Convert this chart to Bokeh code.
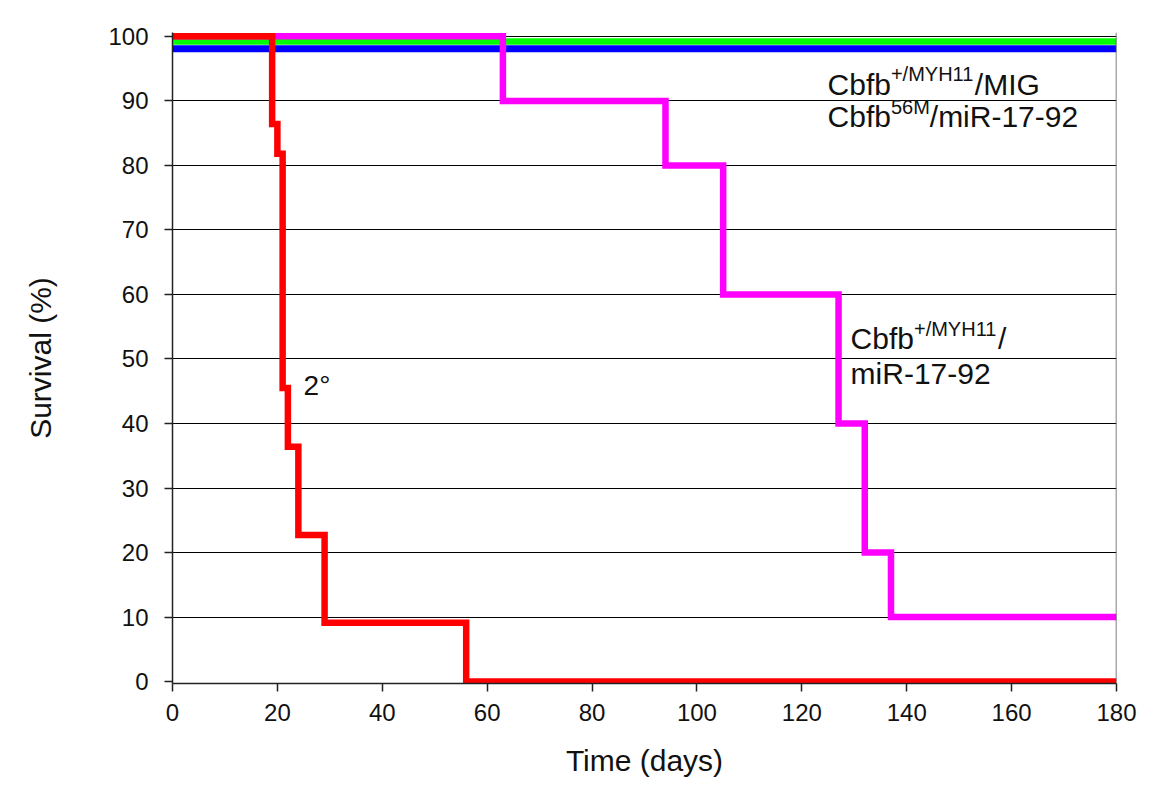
from bokeh.plotting import figure
from bokeh.models import Range1d, FixedTicker, Label, Span
from bokeh.embed import file_html
from bokeh.resources import INLINE

# ---- data ----
days_red = [0, 19, 20, 21, 22, 24, 29, 56, 180]
surv_red = [100, 86.4, 81.8, 45.5, 36.4, 22.7, 9.1, 0, 0]
days_mag = [0, 63, 94, 105, 127, 132, 137, 180]
surv_mag = [100, 90, 80, 60, 40, 20, 10, 10]
days_green = [0, 180]
surv_green = [99.2, 99.2]
days_blue = [0, 180]
surv_blue = [98.1, 98.1]
x_ticks = [0, 20, 40, 60, 80, 100, 120, 140, 160, 180]
y_ticks = [0, 10, 20, 30, 40, 50, 60, 70, 80, 90, 100]
grid_levels = [10, 20, 30, 40, 50, 60, 70, 80, 90, 100]

FONT = "Liberation Sans"

p = figure(width=1155, height=801, output_backend="svg", toolbar_location=None,
           x_range=Range1d(0, 180), y_range=Range1d(-0.3, 100.6),
           min_border_left=172, min_border_right=39, min_border_top=32, min_border_bottom=118)
p.background_fill_color = "white"
p.border_fill_color = "white"
p.outline_line_color = None

# axes
p.xaxis.ticker = FixedTicker(ticks=x_ticks)
p.yaxis.ticker = FixedTicker(ticks=y_ticks)
for ax in (p.xaxis, p.yaxis):
    ax.axis_line_color = "#222222"
    ax.axis_line_width = 1.5
    ax.major_tick_line_color = "#222222"
    ax.major_tick_line_width = 1.5
    ax.major_tick_out = 8
    ax.major_tick_in = 0
    ax.minor_tick_line_color = None
    ax.major_label_text_font = FONT
    ax.major_label_text_font_size = "24px"
    ax.major_label_text_color = "#111111"
    ax.axis_label_text_font = FONT
    ax.axis_label_text_font_size = "30px"
    ax.axis_label_text_font_style = "normal"
    ax.axis_label_text_color = "#111111"
p.xaxis.axis_label = "Time (days)"
p.yaxis.axis_label = "Survival (%)"
p.xaxis.major_label_standoff = 12
p.yaxis.major_label_standoff = 16
p.xaxis.axis_label_standoff = 20
p.yaxis.axis_label_standoff = 48

p.xgrid.grid_line_color = None
p.ygrid.ticker = FixedTicker(ticks=grid_levels)
p.ygrid.grid_line_color = "#000000"
p.ygrid.grid_line_width = 1

# right border
p.add_layout(Span(location=180, dimension="height", line_color="#555555", line_width=1.5))

# curves
p.line(days_green, surv_green, line_color="#00FF00", line_width=6.5)
p.line(days_blue, surv_blue, line_color="#0000FF", line_width=7)
p.step(days_mag, surv_mag, mode="after", line_color="#FF00FF", line_width=6.5, line_join="miter")
p.step(days_red, surv_red, mode="after", line_color="#FF0000", line_width=6.5, line_join="miter")

# rich-text annotations
W = {"C": 722, "b": 556, "f": 278, "+": 584, "/": 278, "M": 833, "Y": 667, "H": 722,
     "1": 556, "I": 278, "G": 778, "5": 556, "6": 556, "m": 833, "i": 222, "R": 722,
     "-": 333, "7": 556, "9": 556, "2": 556, " ": 278}


def tw(s, size):
    return sum(W.get(c, 556) for c in s) / 1000 * size


LIFT = 10  # px correction for baseline placement


def rich(x, y, parts):
    off = 0.0
    for t, size, rise in parts:
        p.add_layout(Label(x=x, y=y, x_offset=off, y_offset=rise + LIFT, text=t,
                           text_font=FONT, text_font_size=f"{size}px",
                           text_baseline="alphabetic", text_align="left",
                           text_color="#111111"))
        off += tw(t, size)


MAIN, SUP, RISE = 30, 20, 10
rich(124.9, 91.0, [("Cbfb", MAIN, 0), ("+/MYH11", SUP, RISE), ("/MIG", MAIN, 0)])
rich(124.9, 86.0, [("Cbfb", MAIN, 0), ("56M", SUP, RISE), ("/miR-17-92", MAIN, 0)])
rich(129.3, 51.6, [("Cbfb", MAIN, 0), ("+/MYH11", SUP, RISE), ("/", MAIN, 0)])
rich(129.3, 46.2, [("miR-17-92", MAIN, 0)])
rich(25.0, 44.3, [("2°", 28, 0)])

open("out.html", "w").write(file_html(p, INLINE))
